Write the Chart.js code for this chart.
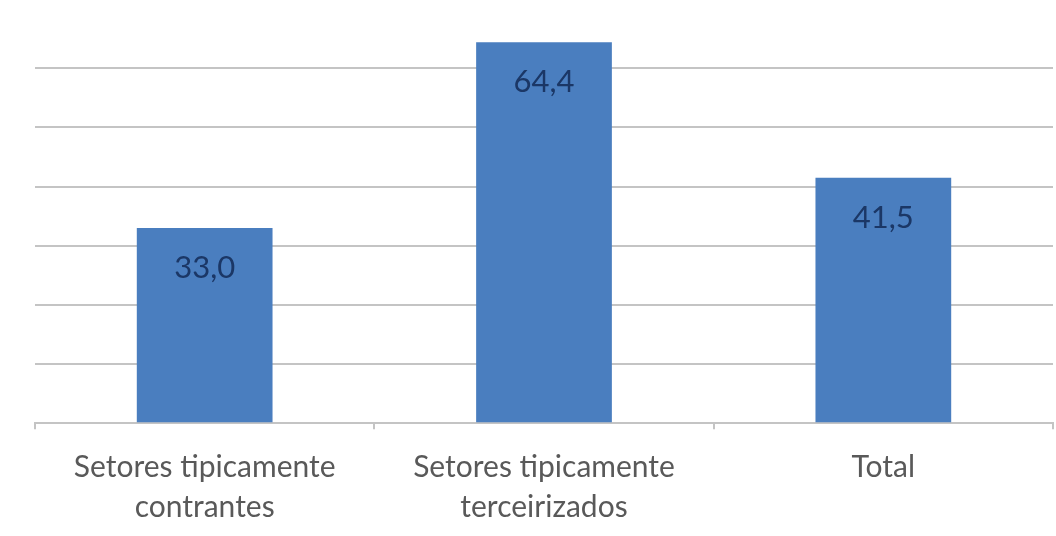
<!DOCTYPE html>
<html>
<head>
<meta charset="utf-8">
<script src="https://cdn.jsdelivr.net/npm/chart.js@4"></script>
<style>
  html, body { margin: 0; padding: 0; background: #fff; }
  #wrap { width: 1056px; height: 536px; }
</style>
</head>
<body>
<div id="wrap"><canvas id="chart" width="1056" height="536"></canvas></div>
<script>
"use strict";

const categories = [
  ["Setores tipicamente", "contrantes"],
  ["Setores tipicamente", "terceirizados"],
  "Total",
];
const values = [33.0, 64.4, 41.5];
const yTicks = { min: 0, max: 70, step: 10 };

const fmtPt = (v) => v.toFixed(1).replace(".", ",");

// value labels inside the top of each bar
const barLabels = {
  id: "barLabels",
  afterDatasetsDraw(chart) {
    const { ctx } = chart;
    const meta = chart.getDatasetMeta(0);
    ctx.save();
    ctx.font = "31px Lato, 'Noto Sans', sans-serif";
    ctx.fillStyle = "#1b3766";
    ctx.textAlign = "center";
    ctx.textBaseline = "middle";
    meta.data.forEach((bar, i) => {
      ctx.fillText(fmtPt(values[i]), bar.x, bar.y + 40);
    });
    ctx.restore();
  },
};

new Chart(document.getElementById("chart"), {
  type: "bar",
  data: {
    labels: categories,
    datasets: [{
      data: values,
      backgroundColor: "#4a7ebf",
      borderWidth: 0,
      categoryPercentage: 1,
      barPercentage: 0.4,
    }],
  },
  options: {
    responsive: false,
    animation: false,
    layout: { padding: { left: 35, right: 3, top: 9, bottom: -9 } },
    plugins: { legend: { display: false }, tooltip: { enabled: false } },
    scales: {
      x: {
        border: { display: true, color: "#c4c4c4", width: 2 },
        grid: { drawOnChartArea: false, drawTicks: true, tickLength: 6, color: "#c4c4c4", lineWidth: 2 },
        ticks: {
          color: "#595959",
          font: { family: "Lato, 'Noto Sans', sans-serif", size: 30, lineHeight: 1.33 },
          padding: 18,
          maxRotation: 0,
          autoSkip: false,
        },
      },
      y: {
        min: yTicks.min,
        max: yTicks.max,
        border: { display: false },
        grid: {
          drawTicks: false,
          lineWidth: 2,
          color: (c) => (c.tick && c.tick.value === yTicks.max ? "rgba(0,0,0,0)" : "#c4c4c4"),
        },
        ticks: { display: false, stepSize: yTicks.step },
      },
    },
  },
  plugins: [barLabels],
});
</script>
</body>
</html>
